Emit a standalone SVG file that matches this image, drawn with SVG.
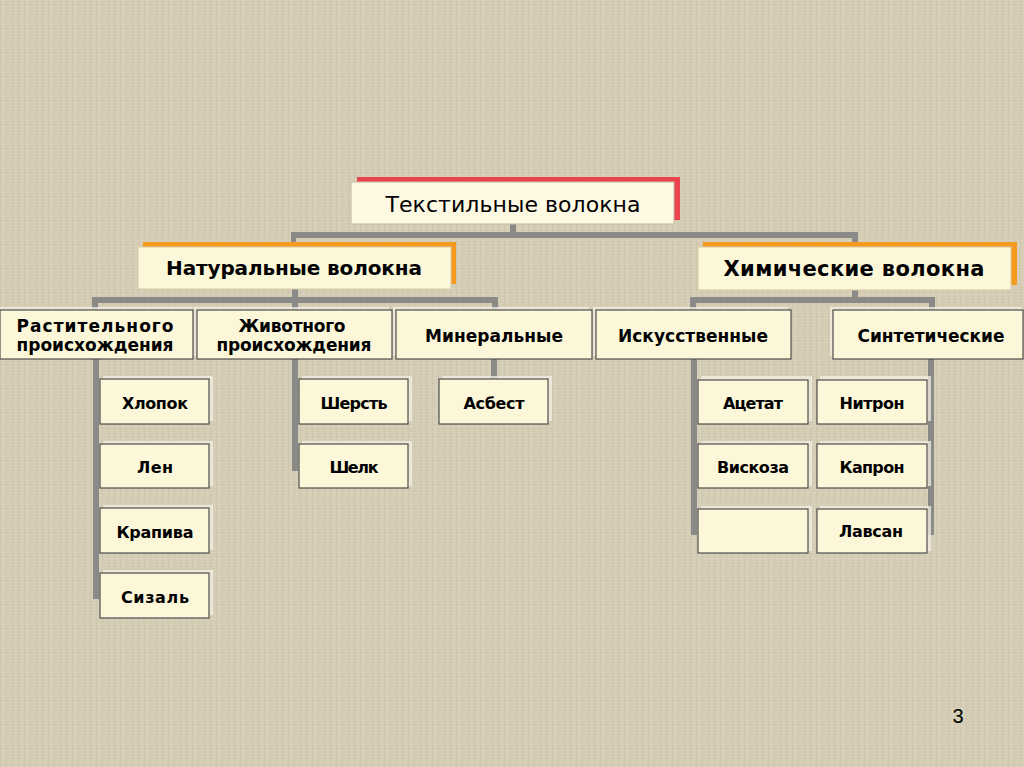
<svg xmlns="http://www.w3.org/2000/svg" width="1024" height="767" viewBox="0 0 1024 767">
  <defs>
    <pattern id="tex" width="6" height="6" patternUnits="userSpaceOnUse">
      <rect width="6" height="6" fill="#d5ccb5"/>
      <rect x="0" y="0" width="6" height="1" fill="#ddd5c1" opacity="0.7"/>
      <rect x="0" y="0" width="1" height="6" fill="#ccc2aa" opacity="0.6"/>
      <rect x="3" y="3" width="2" height="1" fill="#e0d9c7" opacity="0.5"/>
    </pattern>
    <style>
      .box { fill: #fbf7d8; stroke: #4d4d4d; stroke-width: 1.2; }
      .glow { fill: #f3efe2; opacity: 0.75; }
      .con { fill: #8a8a88; }
      .t { font-family: "DejaVu Sans", Verdana, sans-serif; font-weight: bold; fill: #000; text-anchor: middle; }
      .s2 { font-size: 17px; }
      .s3 { font-size: 16px; }
    </style>
  </defs>

  <rect width="1024" height="767" fill="url(#tex)"/>

  <g id="connectors">
    <!-- top level -->
    <rect class="con" x="510" y="224" width="6" height="10"/>
    <rect class="con" x="291" y="232" width="567" height="6"/>
    <rect class="con" x="291" y="232" width="5" height="12"/>
    <rect class="con" x="852" y="232" width="6" height="11"/>
    <!-- natural -->
    <rect class="con" x="292" y="289" width="6" height="10"/>
    <rect class="con" x="92" y="297" width="406" height="6"/>
    <rect class="con" x="92" y="297" width="6" height="14"/>
    <rect class="con" x="292" y="297" width="6" height="14"/>
    <rect class="con" x="492" y="297" width="6" height="14"/>
    <!-- chemical -->
    <rect class="con" x="852" y="289" width="6" height="10"/>
    <rect class="con" x="690" y="297" width="245" height="6"/>
    <rect class="con" x="690" y="297" width="6" height="14"/>
    <rect class="con" x="929" y="297" width="6" height="14"/>
    <!-- level 3 -->
    <rect class="con" x="93" y="359" width="6" height="240"/>
    <rect class="con" x="292" y="359" width="6" height="112"/>
    <rect class="con" x="491" y="359" width="6" height="20"/>
    <rect class="con" x="691" y="359" width="6" height="176"/>
    <rect class="con" x="928" y="359" width="6" height="176"/>
  </g>

  <g id="n-textile">
    <rect x="357" y="177" width="323" height="43" fill="#e9444d"/>
    <rect x="351" y="182" width="323" height="42" fill="#fdf9e3" stroke="#c9b9a0" stroke-width="1"/>
    <text x="513" y="212" font-family="DejaVu Sans, Verdana, sans-serif" font-size="22" fill="#000" text-anchor="middle" textLength="255">Текстильные волокна</text>
  </g>

  <g id="n-natural">
    <rect x="143" y="242" width="313" height="42" fill="#f39a1f"/>
    <rect x="138" y="247" width="313" height="42" fill="#fbf7d8" stroke="#d8c9a8" stroke-width="1"/>
    <text class="t" x="294" y="275" font-size="20" textLength="256">Натуральные волокна</text>
  </g>

  <g id="n-chemical">
    <rect x="703" y="242" width="314" height="43" fill="#f39a1f"/>
    <rect x="698" y="247" width="313" height="43" fill="#fbf7d8" stroke="#d8c9a8" stroke-width="1"/>
    <text class="t" x="854" y="276" font-size="21" textLength="261">Химические волокна</text>
  </g>

  <g id="n-plant">
    <rect class="glow" x="-2" y="307" width="195" height="49"/>
    <rect class="box" x="0" y="310" width="193" height="49"/>
    <text class="t s2" x="95" y="332" textLength="157">Растительного</text>
    <text class="t s2" x="95" y="351" textLength="157">происхождения</text>
  </g>

  <g id="n-animal">
    <rect class="glow" x="194" y="307" width="195" height="49"/>
    <rect class="box" x="197" y="310" width="195" height="49"/>
    <text class="t s2" x="292" y="332" textLength="107">Животного</text>
    <text class="t s2" x="294" y="351" textLength="155">происхождения</text>
  </g>

  <g id="n-mineral">
    <rect class="glow" x="393" y="307" width="196" height="49"/>
    <rect class="box" x="396" y="310" width="196" height="49"/>
    <text class="t s2" x="494" y="342" textLength="138">Минеральные</text>
  </g>

  <g id="n-artificial">
    <rect class="glow" x="593" y="307" width="195" height="49"/>
    <rect class="box" x="596" y="310" width="195" height="49"/>
    <text class="t s2" x="693" y="342" textLength="150">Искусственные</text>
  </g>

  <g id="n-synthetic">
    <rect class="glow" x="830" y="307" width="192" height="49"/>
    <rect class="box" x="833" y="310" width="190" height="49"/>
    <text class="t s2" x="931" y="342" textLength="147">Синтетические</text>
  </g>

  <g id="n-cotton">
    <rect class="glow" x="103" y="376" width="110" height="45"/>
    <rect class="box" x="100" y="379" width="109" height="45"/>
    <text class="t s3" x="155" y="409" textLength="66">Хлопок</text>
  </g>
  <g id="n-flax">
    <rect class="glow" x="103" y="441" width="110" height="45"/>
    <rect class="box" x="100" y="444" width="109" height="44"/>
    <text class="t s3" x="155" y="473" textLength="36">Лен</text>
  </g>
  <g id="n-nettle">
    <rect class="glow" x="103" y="505" width="110" height="45"/>
    <rect class="box" x="100" y="508" width="109" height="45"/>
    <text class="t s3" x="155" y="538" textLength="77">Крапива</text>
  </g>
  <g id="n-sisal">
    <rect class="glow" x="103" y="570" width="110" height="45"/>
    <rect class="box" x="100" y="573" width="109" height="45"/>
    <text class="t s3" x="155" y="603" textLength="68">Сизаль</text>
  </g>

  <g id="n-wool">
    <rect class="glow" x="302" y="376" width="110" height="45"/>
    <rect class="box" x="299" y="379" width="109" height="45"/>
    <text class="t s3" x="354" y="409" textLength="67">Шерсть</text>
  </g>
  <g id="n-silk">
    <rect class="glow" x="302" y="441" width="110" height="45"/>
    <rect class="box" x="299" y="444" width="109" height="44"/>
    <text class="t s3" x="354" y="473" textLength="49">Шелк</text>
  </g>

  <g id="n-asbestos">
    <rect class="glow" x="442" y="376" width="110" height="45"/>
    <rect class="box" x="439" y="379" width="109" height="45"/>
    <text class="t s3" x="494" y="409" textLength="61">Асбест</text>
  </g>

  <g id="n-acetate">
    <rect class="glow" x="701" y="376" width="111" height="45"/>
    <rect class="box" x="698" y="380" width="110" height="44"/>
    <text class="t s3" x="753" y="409" textLength="60">Ацетат</text>
  </g>
  <g id="n-viscose">
    <rect class="glow" x="701" y="441" width="111" height="45"/>
    <rect class="box" x="698" y="444" width="110" height="44"/>
    <text class="t s3" x="753" y="473" textLength="72">Вискоза</text>
  </g>
  <g id="n-blank">
    <rect class="glow" x="701" y="506" width="111" height="45"/>
    <rect class="box" x="698" y="509" width="110" height="44"/>
  </g>

  <g id="n-nitron">
    <rect class="glow" x="820" y="376" width="111" height="45"/>
    <rect class="box" x="817" y="380" width="110" height="44"/>
    <text class="t s3" x="872" y="409" textLength="65">Нитрон</text>
  </g>
  <g id="n-kapron">
    <rect class="glow" x="820" y="441" width="111" height="45"/>
    <rect class="box" x="817" y="444" width="110" height="44"/>
    <text class="t s3" x="872" y="473" textLength="65">Капрон</text>
  </g>
  <g id="n-lavsan">
    <rect class="glow" x="820" y="506" width="111" height="45"/>
    <rect class="box" x="817" y="509" width="110" height="44"/>
    <text class="t s3" x="871" y="537" textLength="64">Лавсан</text>
  </g>

  <text x="958" y="723" font-family="Liberation Sans, Arial, sans-serif" font-size="20" fill="#000" text-anchor="middle">3</text>
</svg>
